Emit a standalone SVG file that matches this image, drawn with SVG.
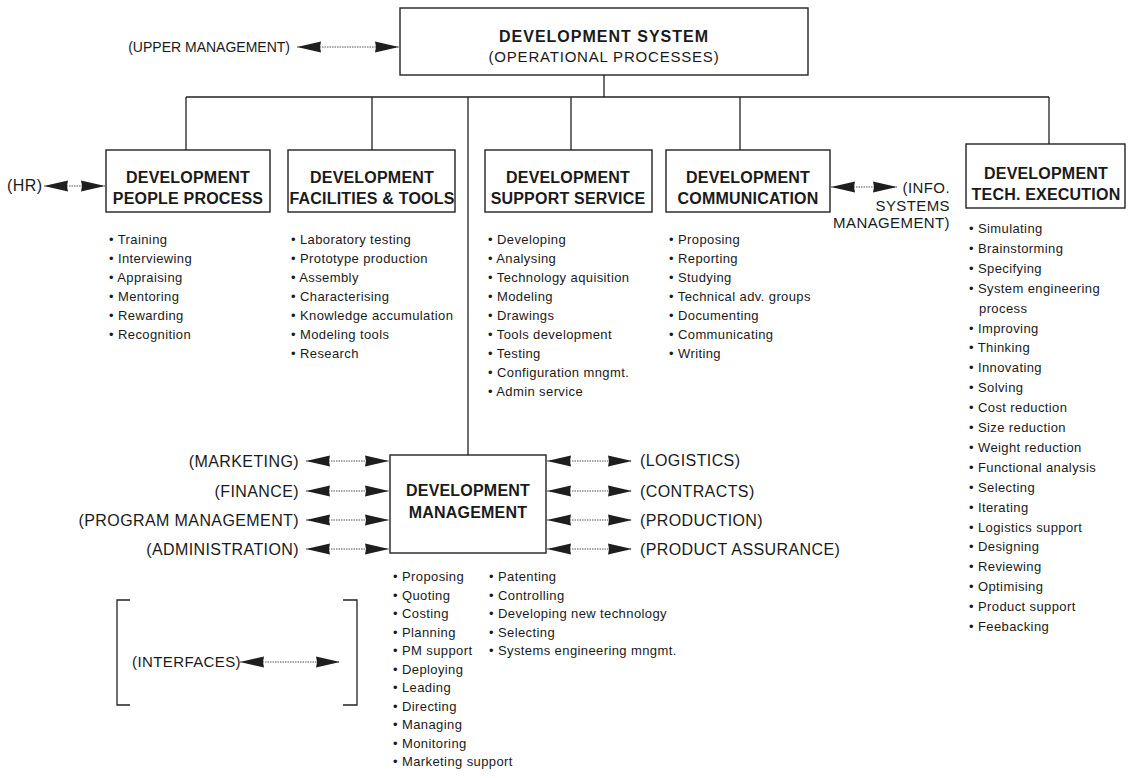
<svg xmlns="http://www.w3.org/2000/svg" width="1129" height="778" viewBox="0 0 1129 778">
<style>
text{font-family:"Liberation Sans",Arial,sans-serif;fill:#1a1a1a}
.h{font-size:16px;font-weight:bold;text-anchor:middle;letter-spacing:0.2px}
.t1{font-size:16px;font-weight:bold;text-anchor:middle;letter-spacing:1px}
.sub{font-size:15px;text-anchor:middle;letter-spacing:0.8px}
.lb{font-size:16px;letter-spacing:0.4px}
.li{font-size:13px;letter-spacing:0.4px}
.box{fill:#fff;stroke:#222;stroke-width:1.4}
.ln{stroke:#222;stroke-width:1.3;fill:none}
.ar{stroke:#555;stroke-width:1.1;stroke-dasharray:1.5 1;fill:none;marker-start:url(#hd);marker-end:url(#hd)}
</style>
<defs>
<marker id="hd" viewBox="0 0 24 12" markerUnits="userSpaceOnUse" markerWidth="24" markerHeight="12" refX="24" refY="6" orient="auto-start-reverse">
<path d="M0,0.5 L24,6 L0,11.5 L1,6 Z" fill="#1e1e1e"/>
</marker>
</defs>
<g id="connectors">
<path class="ln" d="M604,75 V97 M186,97 H1049 M186,97 V150 M372,97 V150 M468,97 V455 M571,97 V150 M740,97 V150 M1049,97 V144"/>
<line class="ar" x1="297" y1="47" x2="399" y2="47"/>
<line class="ar" x1="44" y1="186" x2="105" y2="186"/>
<line class="ar" x1="831" y1="187" x2="897" y2="187"/>
<line class="ar" x1="306" y1="461" x2="389" y2="461"/>
<line class="ar" x1="306" y1="491" x2="389" y2="491"/>
<line class="ar" x1="306" y1="520" x2="389" y2="520"/>
<line class="ar" x1="306" y1="549" x2="389" y2="549"/>
<line class="ar" x1="547" y1="461" x2="632" y2="461"/>
<line class="ar" x1="547" y1="491" x2="632" y2="491"/>
<line class="ar" x1="547" y1="520" x2="632" y2="520"/>
<line class="ar" x1="547" y1="549" x2="632" y2="549"/>
<line class="ar" x1="240" y1="662" x2="340" y2="662"/>
</g>
<g id="system">
<rect class="box" x="400" y="8" width="408" height="67"/>
<text class="t1" x="604" y="42">DEVELOPMENT SYSTEM</text>
<text class="sub" x="604" y="62">(OPERATIONAL PROCESSES)</text>
</g>
<g id="upper-management"><text class="lb" x="290" y="52" text-anchor="end" style="font-size:14px;letter-spacing:0px">(UPPER MANAGEMENT)</text></g>
<g id="hr"><text class="lb" x="7" y="191">(HR)</text></g>
<g id="info-systems">
<text class="lb" x="950" y="193" text-anchor="end" style="font-size:15px">(INFO.</text>
<text class="lb" x="950" y="211" text-anchor="end" style="font-size:15px">SYSTEMS</text>
<text class="lb" x="950" y="228" text-anchor="end" style="font-size:15px">MANAGEMENT)</text>
</g>
<g id="people">
<rect class="box" x="106" y="150" width="164" height="62"/>
<text class="h" x="188" y="183">DEVELOPMENT</text>
<text class="h" x="188" y="204">PEOPLE PROCESS</text>
<text class="li">
<tspan x="109" y="244">• Training</tspan><tspan x="109" y="263">• Interviewing</tspan><tspan x="109" y="282">• Appraising</tspan><tspan x="109" y="301">• Mentoring</tspan><tspan x="109" y="320">• Rewarding</tspan><tspan x="109" y="339">• Recognition</tspan>
</text>
</g>
<g id="facilities">
<rect class="box" x="288" y="150" width="167" height="62"/>
<text class="h" x="372" y="183">DEVELOPMENT</text>
<text class="h" x="372" y="204">FACILITIES &amp; TOOLS</text>
<text class="li">
<tspan x="291" y="244">• Laboratory testing</tspan><tspan x="291" y="263">• Prototype production</tspan><tspan x="291" y="282">• Assembly</tspan><tspan x="291" y="301">• Characterising</tspan><tspan x="291" y="320">• Knowledge accumulation</tspan><tspan x="291" y="339">• Modeling tools</tspan><tspan x="291" y="358">• Research</tspan>
</text>
</g>
<g id="support">
<rect class="box" x="485" y="150" width="167" height="62"/>
<text class="h" x="568" y="183">DEVELOPMENT</text>
<text class="h" x="568" y="204">SUPPORT SERVICE</text>
<text class="li">
<tspan x="488" y="244">• Developing</tspan><tspan x="488" y="263">• Analysing</tspan><tspan x="488" y="282">• Technology aquisition</tspan><tspan x="488" y="301">• Modeling</tspan><tspan x="488" y="320">• Drawings</tspan><tspan x="488" y="339">• Tools development</tspan><tspan x="488" y="358">• Testing</tspan><tspan x="488" y="377">• Configuration mngmt.</tspan><tspan x="488" y="396">• Admin service</tspan>
</text>
</g>
<g id="communication">
<rect class="box" x="666" y="150" width="164" height="62"/>
<text class="h" x="748" y="183">DEVELOPMENT</text>
<text class="h" x="748" y="204">COMMUNICATION</text>
<text class="li">
<tspan x="669" y="244">• Proposing</tspan><tspan x="669" y="263">• Reporting</tspan><tspan x="669" y="282">• Studying</tspan><tspan x="669" y="301">• Technical adv. groups</tspan><tspan x="669" y="320">• Documenting</tspan><tspan x="669" y="339">• Communicating</tspan><tspan x="669" y="358">• Writing</tspan>
</text>
</g>
<g id="tech">
<rect class="box" x="966" y="144" width="159" height="64"/>
<text class="h" x="1046" y="179">DEVELOPMENT</text>
<text class="h" x="1046" y="200">TECH. EXECUTION</text>
<text class="li">
<tspan x="969" y="233">• Simulating</tspan><tspan x="969" y="252.9">• Brainstorming</tspan><tspan x="969" y="272.8">• Specifying</tspan><tspan x="969" y="292.7">• System engineering</tspan><tspan x="979" y="312.6">process</tspan><tspan x="969" y="332.5">• Improving</tspan><tspan x="969" y="352.4">• Thinking</tspan><tspan x="969" y="372.3">• Innovating</tspan><tspan x="969" y="392.2">• Solving</tspan><tspan x="969" y="412.1">• Cost reduction</tspan><tspan x="969" y="432">• Size reduction</tspan><tspan x="969" y="451.9">• Weight reduction</tspan><tspan x="969" y="471.8">• Functional analysis</tspan><tspan x="969" y="491.7">• Selecting</tspan><tspan x="969" y="511.6">• Iterating</tspan><tspan x="969" y="531.5">• Logistics support</tspan><tspan x="969" y="551.4">• Designing</tspan><tspan x="969" y="571.3">• Reviewing</tspan><tspan x="969" y="591.2">• Optimising</tspan><tspan x="969" y="611.1">• Product support</tspan><tspan x="969" y="631">• Feebacking</tspan>
</text>
</g>
<g id="management">
<rect class="box" x="390" y="455" width="156" height="98"/>
<text class="h" x="468" y="496">DEVELOPMENT</text>
<text class="h" x="468" y="518">MANAGEMENT</text>
<text class="li">
<tspan x="393" y="581">• Proposing</tspan><tspan x="393" y="599.5">• Quoting</tspan><tspan x="393" y="618">• Costing</tspan><tspan x="393" y="636.5">• Planning</tspan><tspan x="393" y="655">• PM support</tspan><tspan x="393" y="673.5">• Deploying</tspan><tspan x="393" y="692">• Leading</tspan><tspan x="393" y="710.5">• Directing</tspan><tspan x="393" y="729">• Managing</tspan><tspan x="393" y="747.5">• Monitoring</tspan><tspan x="393" y="766">• Marketing support</tspan>
</text>
<text class="li">
<tspan x="489" y="581">• Patenting</tspan><tspan x="489" y="599.5">• Controlling</tspan><tspan x="489" y="618">• Developing new technology</tspan><tspan x="489" y="636.5">• Selecting</tspan><tspan x="489" y="655">• Systems engineering mngmt.</tspan>
</text>
</g>
<g id="left-interfaces">
<text class="lb" x="299" y="467" text-anchor="end">(MARKETING)</text>
<text class="lb" x="299" y="497" text-anchor="end">(FINANCE)</text>
<text class="lb" x="299" y="526" text-anchor="end">(PROGRAM MANAGEMENT)</text>
<text class="lb" x="299" y="555" text-anchor="end">(ADMINISTRATION)</text>
</g>
<g id="right-interfaces">
<text class="lb" x="640" y="466">(LOGISTICS)</text>
<text class="lb" x="640" y="497">(CONTRACTS)</text>
<text class="lb" x="640" y="526">(PRODUCTION)</text>
<text class="lb" x="640" y="555">(PRODUCT ASSURANCE)</text>
</g>
<g id="legend">
<path class="ln" d="M130,600 H117 V705 H130 M343,600 H357 V705 H343"/>
<text class="lb" x="132" y="667" style="font-size:15px">(INTERFACES)</text>
</g>
</svg>
